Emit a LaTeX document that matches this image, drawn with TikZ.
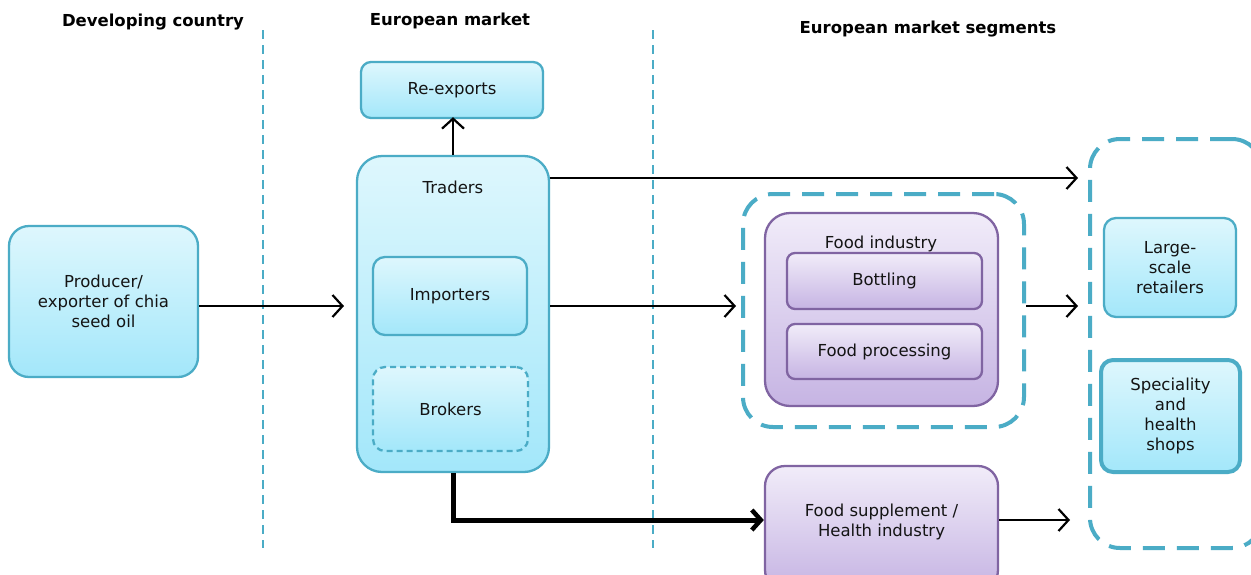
\documentclass[tikz,border=0pt]{standalone}
\usepackage{fontspec}
\setmainfont{DejaVu Sans}
\usetikzlibrary{arrows.meta}
\definecolor{bborder}{RGB}{75,172,198}
\definecolor{btop}{RGB}{222,247,253}
\definecolor{bbot}{RGB}{163,231,250}
\definecolor{pborder}{RGB}{128,100,162}
\definecolor{ptop}{RGB}{241,236,249}
\definecolor{pbot}{RGB}{198,180,227}
\definecolor{txt}{RGB}{20,20,20}
\tikzset{
  bluebox/.style={draw=bborder, line width=2.3pt, top color=btop, bottom color=bbot, rounded corners=#1, align=center, text=txt, font=\fontsize{16.5}{20}\selectfont, inner sep=0pt},
  bluebox/.default=10pt,
  purplebox/.style={draw=pborder, line width=2.3pt, top color=ptop, bottom color=pbot, rounded corners=#1, align=center, text=txt, font=\fontsize{16.5}{20}\selectfont, inner sep=0pt},
  purplebox/.default=10pt,
  groupdash/.style={draw=bborder, line width=4pt, dash pattern=on 22pt off 12pt, rounded corners=30pt, fill=none},
  sepline/.style={draw=bborder, line width=2.5pt, dash pattern=on 9pt off 6pt},
  title/.style={font=\bfseries\fontsize{16.5}{20}\selectfont, text=black},
  lbl/.style={font=\fontsize{16.5}{20}\selectfont, text=txt, align=center},
  arr/.style={draw=black, line width=2.2pt, -{Straight Barb[length=10pt,width=22pt,line width=2.2pt]}},
  thickarr/.style={draw=black, line width=5pt, -{Straight Barb[length=9pt,width=20pt,line width=4.5pt]}},
}
\begin{document}
\begin{tikzpicture}[x=1pt,y=-1pt]
\clip (0,0) rectangle (1251,574);
\fill[white] (0,0) rectangle (1251,574);
% separators
\coordinate (s1t) at (263,30); \coordinate (s1b) at (263,548);
\coordinate (s2t) at (653,30); \coordinate (s2b) at (653,548);
\draw[sepline] (s1t) -- (s1b);
\draw[sepline] (s2t) -- (s2b);
% titles
\node[title] (t1) at (153,22) {Developing country};
\node[title] (t2) at (450,21) {European market};
\node[title] (t3) at (928,29) {European market segments};
% nodes
\node[bluebox, minimum width=182pt, minimum height=56pt] (reexp) at (452,90) {Re-exports};
\node[bluebox=25pt, minimum width=192pt, minimum height=316pt] (traders) at (453,314) {};
\node[lbl] (traderslbl) at (453,187) {Traders};
\node[bluebox=12pt, minimum width=154pt, minimum height=78pt] (imp) at (450,296) {Importers};
\node[bluebox=12pt, minimum width=155pt, minimum height=84pt, dash pattern=on 6pt off 4pt] (brok) at (450.5,409) {Brokers};
\node[bluebox=20pt, minimum width=189pt, minimum height=151pt] (prod) at (103.5,301.5) {Producer/\\exporter of chia\\seed oil};
\node[groupdash, minimum width=281pt, minimum height=233pt] (fooddash) at (883.5,310.5) {};
\node[purplebox=25pt, minimum width=233pt, minimum height=193pt] (foodind) at (881.5,309.5) {};
\node[lbl] (foodlbl) at (881,244) {Food industry};
\node[purplebox=8pt, minimum width=195pt, minimum height=56pt] (bott) at (884.5,281) {Bottling};
\node[purplebox=8pt, minimum width=195pt, minimum height=55pt] (fproc) at (884.5,351.5) {Food processing};
\node[groupdash, minimum width=172pt, minimum height=409pt] (rightdash) at (1176,343.5) {};
\node[bluebox=12pt, minimum width=132pt, minimum height=99pt] (large) at (1170,267.5) {Large-\\scale\\retailers};
\node[bluebox=12pt, minimum width=139pt, minimum height=112pt, line width=4pt] (spec) at (1170.5,416) {Speciality\\and\\health\\shops};
\node[purplebox=20pt, minimum width=233pt, minimum height=124pt] (supp) at (881.5,528) {};
\node[lbl] (supplbl) at (881.5,521.5) {Food supplement /\\Health industry};
% connectors
\coordinate (prodend) at (344,306);
\draw[arr] (prod.east |- prodend) -- (prodend);
\draw[arr] (traders.north) -- ([yshift=2pt]traders.north |- reexp.south);
\coordinate (topend) at (1078,178);
\draw[arr] (traders.east |- topend) -- (topend);
\coordinate (impend) at (736,306);
\draw[arr] (traders.east |- impend) -- (impend);
\coordinate (foodend) at (1078,306);
\draw[arr] (fooddash.east |- foodend) -- (foodend);
\coordinate (bend) at (453,520);
\draw[thickarr] (traders.south) -- (bend) -- (bend -| supp.west);
\coordinate (suppend) at (1070,520);
\draw[arr] (supp.east |- suppend) -- (suppend);
\end{tikzpicture}
\end{document}
